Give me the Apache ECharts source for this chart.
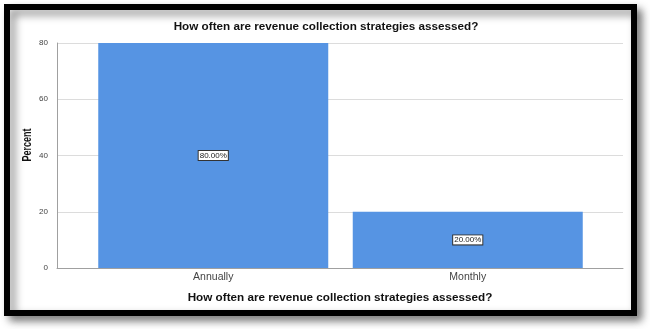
<!DOCTYPE html>
<html>
  <head>
    <meta charset="utf-8" />
    <title>revenue collection strategies</title>
    <style>
      html, body { margin: 0; padding: 0; background: #fff; }
      #chartBox { width: 650px; height: 329px; }
    </style>
  </head>
  <body>
    <div id="chartBox"></div>
  </body>
  <script src="https://cdn.jsdelivr.net/npm/echarts@6/dist/echarts.min.js"></script>
  <script>
    var categories = ['Annually', 'Monthly'];
    var percentValues = [80, 20];
    var yTicks = [0, 20, 40, 60, 80];
    var titleText = 'How often are revenue collection strategies assessed?';

    var _font = 'Liberation Sans, Arial, sans-serif';
    var myChart = echarts.init(document.getElementById('chartBox'));
    var option = {
      backgroundColor: '#fff',
      animation: false,
      title: {
        text: titleText,
        left: 321,
        top: 16,
        textAlign: 'center',
        textStyle: { fontFamily: _font, fontSize: 11.7, fontWeight: 'bold', color: '#111' }
      },
      graphic: [
        {
          type: 'rect',
          z: -10,
          shape: { x: 7, y: 7, width: 627, height: 306 },
          style: {
            fill: '#fff',
            stroke: '#000',
            lineWidth: 6,
            shadowBlur: 8,
            shadowOffsetX: 5,
            shadowOffsetY: 5,
            shadowColor: 'rgba(0,0,0,0.45)'
          }
        },
        {
          // rotated axis title, narrow like the original
          type: 'text',
          x: 28,
          y: 145,
          rotation: Math.PI / 2,
          scaleX: 0.72,
          style: {
            text: 'Percent',
            fontFamily: _font,
            fontSize: 12.5,
            fontWeight: 'bold',
            fill: '#111',
            align: 'center',
            verticalAlign: 'middle'
          }
        }
      ],
      grid: [
        { left: 57, right: 27, top: 43, bottom: 61 },
        { left: 86, right: 55, top: 43, bottom: 61 }
      ],
      xAxis: [
        {
          gridIndex: 0,
          type: 'category',
          data: [''],
          axisLine: { lineStyle: { color: '#a0a0a0', width: 1 } },
          axisTick: { show: false },
          axisLabel: { show: false },
          name: titleText,
          nameLocation: 'middle',
          nameGap: 24,
          nameTextStyle: { fontFamily: _font, fontSize: 11.7, fontWeight: 'bold', color: '#111' }
        },
        {
          gridIndex: 1,
          type: 'category',
          data: categories,
          axisLine: { show: false },
          axisTick: { show: false },
          axisLabel: { fontFamily: _font, fontSize: 10.5, color: '#444', margin: 4 }
        }
      ],
      yAxis: [
        {
          gridIndex: 0,
          type: 'value',
          min: yTicks[0],
          max: yTicks[yTicks.length - 1],
          interval: 20,
          axisLine: { show: true, lineStyle: { color: '#a0a0a0' } },
          axisTick: { show: false },
          axisLabel: { fontFamily: _font, fontSize: 8, color: '#444', margin: 9 },
          splitLine: { lineStyle: { color: '#dcdcdc', width: 1 } }
        },
        {
          gridIndex: 1,
          type: 'value',
          min: yTicks[0],
          max: yTicks[yTicks.length - 1],
          show: false,
          splitLine: { show: false }
        }
      ],
      series: [
        {
          type: 'bar',
          xAxisIndex: 1,
          yAxisIndex: 1,
          barWidth: 230,
          data: percentValues,
          itemStyle: { color: '#5694e3' },
          label: {
            show: true,
            position: 'inside',
            formatter: function (p) { return p.value.toFixed(2) + '%'; },
            fontFamily: _font,
            fontSize: 8,
            color: '#222',
            backgroundColor: '#fff',
            borderColor: '#333',
            borderWidth: 1,
            padding: [1, 1, 0, 1]
          }
        }
      ]
    };
    myChart.setOption(option);
  </script>
</html>
